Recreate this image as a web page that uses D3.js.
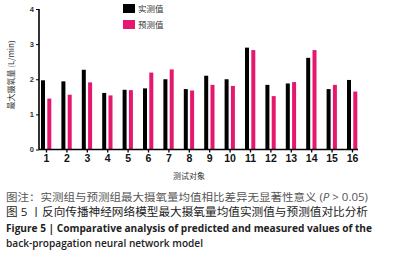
<!DOCTYPE html>
<html>
<head>
<meta charset="utf-8">
<script src="https://cdn.jsdelivr.net/npm/d3@7"></script>
<style>
  body { margin: 0; background: #fff; }
  text { font-family: "Liberation Sans", Arial, sans-serif; }
  .cjk { font-family: "Noto Sans CJK SC", sans-serif; }
  .cap { font-family: "Open Sans", "Noto Sans CJK SC", sans-serif; }
</style>
</head>
<body>
<div id="chart"></div>
<script>
const chart_width = 396;
const chart_height = 255;

const subjects = ['1', '2', '3', '4', '5', '6', '7', '8', '9', '10', '11', '12', '13', '14', '15', '16'];
const measured = [1.97, 1.94, 2.27, 1.61, 1.70, 1.74, 2.00, 1.72, 2.10, 2.00, 2.90, 1.84, 1.88, 2.61, 1.72, 1.98];
const predicted = [1.45, 1.56, 1.91, 1.54, 1.69, 2.19, 2.28, 1.68, 1.84, 1.81, 2.83, 1.52, 1.92, 2.83, 1.84, 1.65];
const y_ticks = [0, 1, 2, 3, 4];
const series_names = ['实测值', '预测值'];
const colors = ['#000000', '#e5176f'];

const svg = d3.select('#chart')
    .append('svg')
    .attr('width', chart_width)
    .attr('height', chart_height);

// scales
const x_scale = d3.scalePoint()
    .domain(subjects)
    .range([46, 352]);

const y_scale = d3.scaleLinear()
    .domain([0, 4])
    .range([149.5, 9]);

const bar_w = 4;

// bars
svg.append('g').selectAll('rect')
    .data(measured)
    .enter()
    .append('rect')
    .attr('x', (d, i) => x_scale(subjects[i]) - 5)
    .attr('y', d => y_scale(d))
    .attr('width', bar_w)
    .attr('height', d => y_scale(0) - y_scale(d))
    .attr('fill', colors[0]);

svg.append('g').selectAll('rect')
    .data(predicted)
    .enter()
    .append('rect')
    .attr('x', (d, i) => x_scale(subjects[i]) + 1.3)
    .attr('y', d => y_scale(d))
    .attr('width', bar_w)
    .attr('height', d => y_scale(0) - y_scale(d))
    .attr('fill', colors[1]);

// axes
const x_axis = d3.axisBottom(x_scale).tickSize(3).tickPadding(2);
const gx = svg.append('g')
    .attr('transform', 'translate(0,' + y_scale(0) + ')')
    .call(x_axis);
gx.select('.domain').remove();
gx.selectAll('.tick line').attr('stroke', '#000').attr('stroke-width', 1.3);
gx.selectAll('.tick text')
    .attr('font-size', 10.5)
    .attr('font-weight', 'bold')
    .attr('fill', '#111');
gx.append('line')
    .attr('x1', 39).attr('x2', 358)
    .attr('stroke', '#000').attr('stroke-width', 1.6);

const y_axis = d3.axisLeft(y_scale)
    .tickValues(y_ticks)
    .tickFormat(d3.format('d'))
    .tickSize(3)
    .tickPadding(2);
const gy = svg.append('g')
    .attr('transform', 'translate(39,0)')
    .call(y_axis);
gy.select('.domain').attr('stroke-width', 1.6).attr('d', 'M0,' + y_scale(4) + 'V' + y_scale(0));
gy.selectAll('.tick line').attr('stroke-width', 1);
gy.selectAll('.tick text')
    .attr('font-size', 7.5)
    .attr('font-weight', 'bold')
    .attr('fill', '#333');

// axis titles
svg.append('text')
    .attr('class', 'cjk')
    .attr('transform', 'translate(14,75) rotate(-90)')
    .attr('text-anchor', 'middle')
    .attr('font-size', 8)
    .attr('fill', '#333')
    .text('最大摄氧量 (L/min)');

svg.append('text')
    .attr('class', 'cjk')
    .attr('x', 189)
    .attr('y', 179)
    .attr('text-anchor', 'middle')
    .attr('font-size', 8)
    .attr('fill', '#333')
    .text('测试对象');

// legend
const legend = svg.append('g');
series_names.forEach((name, i) => {
    legend.append('rect')
        .attr('x', 123)
        .attr('y', 4 + i * 16)
        .attr('width', 12)
        .attr('height', 9)
        .attr('fill', colors[i]);
    legend.append('text')
        .attr('class', 'cjk')
        .attr('x', 138)
        .attr('y', 12 + i * 16)
        .attr('font-size', 8.5)
        .attr('fill', '#333')
        .text(name);
});

// caption
const cap1 = svg.append('text')
    .attr('class', 'cap')
    .attr('x', 6).attr('y', 201)
    .attr('font-size', 10.5)
    .attr('fill', '#555')
    .attr('textLength', 362)
    .attr('lengthAdjust', 'spacingAndGlyphs');
cap1.append('tspan').text('图注：实测组与预测组最大摄氧量均值相比差异无显著性意义 (');
cap1.append('tspan').attr('font-style', 'italic').text('P');
cap1.append('tspan').text(' > 0.05)');

svg.append('text')
    .attr('class', 'cap')
    .attr('x', 6).attr('y', 216)
    .attr('font-size', 11)
    .attr('fill', '#222')
    .attr('textLength', 362)
    .attr('lengthAdjust', 'spacingAndGlyphs')
    .text('图 5 丨反向传播神经网络模型最大摄氧量均值实测值与预测值对比分析');

svg.append('text')
    .attr('class', 'cap')
    .attr('x', 6).attr('y', 232)
    .attr('font-size', 10.5)
    .attr('font-weight', 'bold')
    .attr('fill', '#222')
    .attr('textLength', 366)
    .attr('lengthAdjust', 'spacingAndGlyphs')
    .text('Figure 5 |  Comparative analysis of predicted and measured values of the');

svg.append('text')
    .attr('class', 'cap')
    .attr('x', 6).attr('y', 247)
    .attr('font-size', 10.5)
    .attr('font-weight', 600)
    .attr('fill', '#222')
    .attr('textLength', 197)
    .attr('lengthAdjust', 'spacingAndGlyphs')
    .text('back-propagation neural network model');
</script>
</body>
</html>
